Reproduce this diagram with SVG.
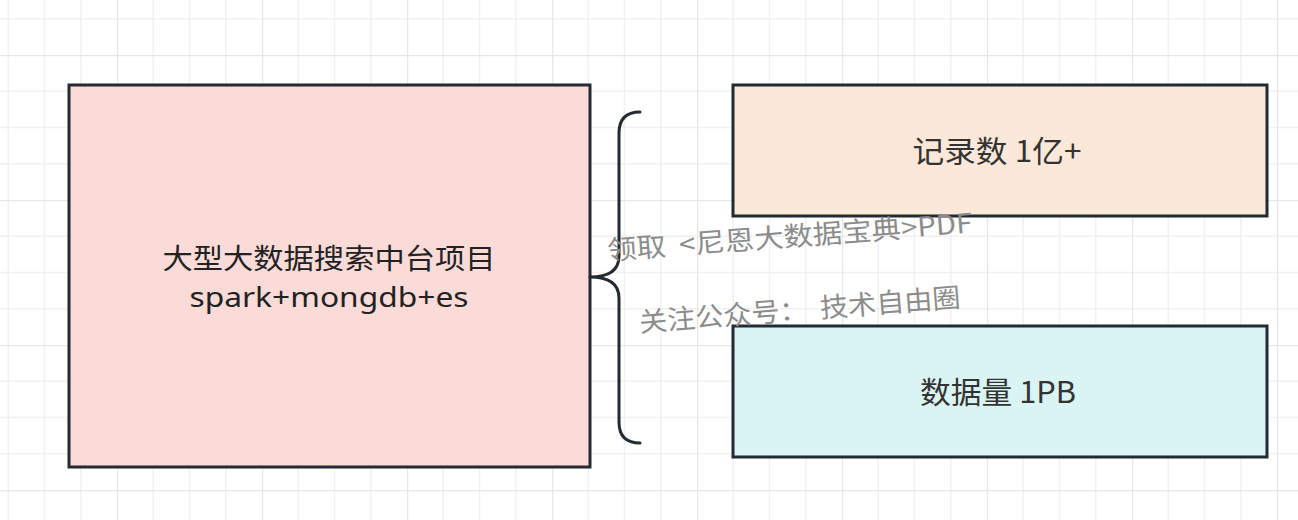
<svg xmlns="http://www.w3.org/2000/svg" width="1298" height="520" viewBox="0 0 1298 520">
  <defs>
    <pattern id="grid" x="117" y="55" width="145" height="145" patternUnits="userSpaceOnUse">
      <path d="M36.25 0V145M72.5 0V145M108.75 0V145M0 36.25H145M0 72.5H145M0 108.75H145" stroke="#f1f1f1" stroke-width="1.5" fill="none"/>
      <path d="M0.5 0V145M0 0.5H145" stroke="#e7e7e7" stroke-width="1.5" fill="none"/>
    </pattern>
    <style>
      .box { stroke: #232a31; stroke-width: 3; }
      .lbl { font-family: "Noto Sans CJK SC", "Noto Sans", sans-serif; font-size: 30px; fill: #222; text-anchor: middle; }
      .sm { font-size: 28px; }
      .lat { font-family: "Noto Sans", "Noto Sans CJK SC", sans-serif; }
      .lbl2 { fill: #333; }
      .wm { font-family: "Noto Sans CJK SC", "Noto Sans", sans-serif; font-size: 27px; fill: #8c8c8c; white-space: pre; }
    </style>
  </defs>
  <rect width="1298" height="520" fill="#ffffff"/>
  <rect width="1298" height="520" fill="url(#grid)"/>

  <g id="node-main">
    <rect class="box" x="69" y="85" width="521" height="382" fill="#fadbd8"/>
    <text class="lbl sm" x="329" y="269" textLength="333" lengthAdjust="spacingAndGlyphs">大型大数据搜索中台项目</text>
    <text class="lbl sm lat" x="329" y="307" textLength="279" lengthAdjust="spacingAndGlyphs">spark+mongdb+es</text>
  </g>

  <g id="node-records">
    <rect class="box" x="733" y="85" width="534" height="131" fill="#fbe8d8"/>
    <text class="lbl lbl2" x="997" y="162" textLength="169" lengthAdjust="spacingAndGlyphs">记录数 1亿+</text>
  </g>

  <g id="node-volume">
    <rect class="box" x="733" y="326" width="534" height="131" fill="#daf3f3"/>
    <text class="lbl lbl2" x="998" y="403" textLength="156" lengthAdjust="spacingAndGlyphs">数据量 1PB</text>
  </g>

  <g id="connectors">
    <path d="M640 112 Q619 112 619 133 L619 256 Q619 277 590 277 Q619 277 619 298 L619 422 Q619 443 640 443" fill="none" stroke="#232a31" stroke-width="3" stroke-linecap="round" stroke-linejoin="round"/>
  </g>

  <g id="watermark">
    <text class="wm" x="608" y="260" transform="rotate(-4.3 608 260)" textLength="366" lengthAdjust="spacingAndGlyphs" xml:space="preserve">领取  &lt;尼恩大数据宝典&gt;PDF</text>
    <text class="wm" x="640" y="332" transform="rotate(-4.5 640 332)" textLength="322" lengthAdjust="spacingAndGlyphs" xml:space="preserve">关注公众号：  技术自由圈</text>
  </g>
</svg>
